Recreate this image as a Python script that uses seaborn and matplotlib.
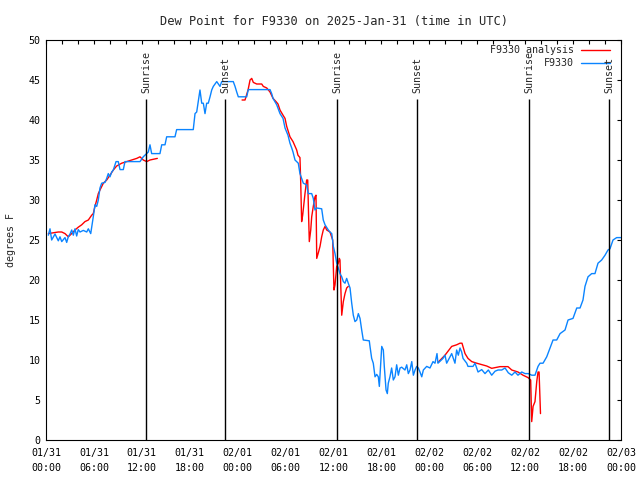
import pandas as pd
import matplotlib
matplotlib.use('Agg')
import matplotlib.pyplot as plt
import matplotlib.dates as mdates
import seaborn as sns

# hours after 2025-01-31 00:00 UTC, dew point in degrees F
obs_hours = [0.29, 0.50, 0.71, 1.13, 1.54, 1.75, 1.97, 2.38, 2.59, 2.79, 3.01, 3.22, 3.42, 3.63,
             3.84, 4.04, 4.26, 4.67, 5.10, 5.30, 5.51, 5.60, 5.92, 6.13, 6.35, 6.55, 6.76, 6.97,
             7.39, 7.60, 7.80, 8.01, 8.23, 8.43, 8.77, 9.05, 9.27, 9.68, 9.89, 11.77, 12.18, 12.61,
             12.81, 13.02, 13.23, 14.27, 14.49, 14.90, 15.11, 16.15, 16.36, 18.44, 18.66, 18.87,
             19.07, 19.28, 19.50, 19.70, 19.91, 20.12, 20.32, 20.54, 20.75, 20.95, 21.38, 21.79,
             22.00, 23.45, 23.67, 23.88, 24.08, 25.13, 25.33, 28.05, 28.26, 28.43, 28.89, 29.30,
             29.68, 29.93, 30.30, 30.55, 30.77, 30.93, 31.18, 31.59, 31.80, 32.01, 32.22, 32.64,
             32.84, 33.27, 33.47, 33.68, 33.90, 34.52, 34.72, 34.94, 35.35, 35.56, 35.78, 35.98,
             36.19, 36.40, 36.60, 36.81, 37.03, 37.23, 37.44, 37.65, 37.85, 38.07, 38.28, 38.48,
             38.69, 38.91, 39.11, 39.32, 39.53, 39.73, 40.48, 40.57, 40.78, 40.98, 41.20, 41.41,
             41.61, 41.74, 41.91, 42.04, 42.24, 42.36, 42.58, 42.74, 42.86, 43.07, 43.28, 43.49,
             43.70, 43.91, 44.12, 44.33, 44.54, 44.95, 45.17, 45.37, 45.58, 45.80, 46.00, 46.21,
             46.42, 46.62, 46.83, 47.05, 47.25, 47.67, 48.08, 48.46, 48.71, 48.96, 49.08, 49.71,
             49.96, 50.17, 50.80, 51.21, 51.42, 51.63, 51.84, 52.05, 52.22, 52.68, 52.84, 53.47,
             53.72, 54.10, 54.56, 54.97, 55.39, 55.81, 56.23, 56.60, 57.07, 57.48, 57.89, 58.32,
             58.73, 59.10, 59.57, 59.98, 60.40, 60.82, 61.23, 61.45, 61.61, 61.86, 62.24, 62.70,
             63.11, 63.49, 63.95, 64.37, 64.99, 65.37, 65.99, 66.46, 66.87, 67.24, 67.49, 67.87,
             68.33, 68.74, 69.12, 69.58, 70.00, 70.37, 70.62, 71.00, 71.46, 72.00]
obs_dew = [25.6, 26.4, 25.0, 25.75, 24.9, 25.4, 24.8, 25.3, 24.7, 25.4, 25.75, 26.25, 25.6, 26.4,
           25.5, 26.3, 26.0, 26.2, 26.0, 26.4, 26.0, 25.8, 27.9, 29.4, 29.2, 30.0, 31.5, 32.1,
           32.2, 32.7, 33.3, 32.9, 33.5, 33.75, 34.8, 34.8, 33.8, 33.8, 34.8, 34.8, 35.4, 35.8,
           36.0, 36.9, 35.8, 35.8, 36.9, 36.9, 37.9, 37.9, 38.8, 38.8, 40.8, 41.0,
           42.3, 43.75, 42.1, 42.1, 40.8, 42.1, 42.1, 42.9, 43.75, 44.2, 44.8, 44.2,
           44.8, 44.8, 44.2, 43.5, 42.9, 42.9, 43.8, 43.8, 43.3, 42.7, 41.9, 40.8,
           40.2, 39.0, 38.1, 37.1, 36.5, 36.0, 35.0, 34.6, 33.3, 32.7, 32.1, 31.9,
           30.8, 30.8, 30.2, 28.75, 29.0, 28.9, 27.5, 26.9, 26.25, 26.0, 25.8, 24.2,
           23.3, 22.1, 21.5, 20.8, 20.4, 19.8, 19.6, 20.2, 19.6, 19.0, 17.1, 15.6,
           14.8, 15.0, 15.8, 15.2, 13.75, 12.5, 12.4, 11.7, 10.2, 9.6, 7.9, 8.2,
           7.9, 6.7, 9.5, 11.7, 11.25, 9.2, 6.25, 5.8, 7.1, 7.9, 9.0, 7.5,
           7.9, 9.4, 8.1, 9.0, 9.1, 8.75, 9.4, 8.3, 8.75, 9.8, 8.1, 8.75,
           9.2, 9.0, 8.5, 7.9, 8.75, 9.2, 9.0, 9.8, 9.6, 10.8, 9.6, 10.2,
           10.6, 9.6, 10.8, 9.6, 11.25, 10.6, 11.5, 11.0, 10.2, 9.6, 9.2, 9.2,
           9.6, 8.5, 8.8, 8.3, 8.75, 8.1, 8.6, 8.75, 8.75, 9.0, 8.4, 8.1,
           8.5, 8.1, 8.5, 8.3, 8.3, 8.1, 8.1, 8.75, 9.2, 9.6, 9.6, 10.4,
           11.5, 12.5, 12.5, 13.3, 13.75, 15.0, 15.2, 16.5, 16.5, 17.5, 19.2, 20.4,
           20.8, 20.8, 22.1, 22.5, 23.1, 23.75, 23.9, 25.0, 25.3, 25.3]

# analysis has three separate pieces
ana_hours_1 = [0.29, 0.91, 1.54, 1.97, 2.38, 2.79, 3.22, 3.63, 4.04, 4.47, 4.88, 5.30, 5.72, 5.92,
               6.13, 6.35, 6.55, 6.76, 7.18, 7.60, 8.01, 8.43, 8.85, 9.48, 10.11, 10.73, 11.36,
               11.77, 12.18, 12.61, 13.02, 13.94]
ana_dew_1 = [25.8, 25.9, 26.0, 26.0, 25.8, 25.4, 25.8, 26.25, 26.6, 26.9, 27.3, 27.5, 28.1, 28.3,
             29.2, 30.0, 30.8, 31.25, 32.1, 32.5, 33.1, 33.75, 34.25, 34.6, 34.8, 35.0, 35.2,
             35.4, 35.0, 34.8, 35.0, 35.2]
ana_hours_2 = [24.55, 24.92, 25.30, 25.55, 25.76, 25.96, 26.38, 27.01, 27.21, 27.64, 28.05, 28.43,
               28.80, 29.05, 29.30, 29.68, 29.93, 30.14, 30.55, 30.93, 31.39, 31.55, 31.80, 31.89,
               32.01, 32.14, 32.43, 32.64, 32.77, 32.87, 32.97, 33.15, 33.27, 33.47, 33.68, 33.81,
               33.90, 34.10, 34.31, 34.52, 34.72, 34.94, 35.15, 35.56, 35.90, 35.98, 36.06, 36.19,
               36.40, 36.60, 36.73, 36.81, 36.90, 37.03, 37.23, 37.44, 37.65, 37.85]
ana_dew_2 = [42.5, 42.5, 43.75, 45.0, 45.2, 44.7, 44.5, 44.5, 44.2, 44.0, 43.5, 42.7,
             42.3, 42.0, 41.25, 40.6, 40.2, 39.2, 37.9, 37.3, 36.25, 35.6, 35.3, 32.4,
             27.3, 28.1, 30.8, 32.5, 32.5, 28.5, 24.8, 26.25, 27.9, 29.2, 30.4, 30.6,
             22.7, 23.4, 24.2, 25.4, 26.25, 26.7, 26.25, 26.0, 25.0, 21.7, 18.75, 19.4,
             21.7, 22.1, 22.7, 22.5, 19.6, 15.6, 17.3, 18.3, 19.0, 19.2]
ana_hours_3 = [49.08, 49.96, 50.80, 51.42, 51.84, 52.09, 52.47, 52.84, 53.31, 53.93, 55.18, 55.81,
               56.85, 57.85, 58.32, 59.10, 59.73, 60.36, 60.69, 60.82, 60.99, 61.23, 61.45, 61.61,
               61.74, 61.92]
ana_dew_3 = [9.7, 10.6, 11.7, 11.9, 12.1, 12.1, 10.8, 10.2, 9.8, 9.6, 9.25, 8.96,
             9.17, 9.17, 8.75, 8.5, 8.1, 7.8, 7.5, 2.3, 4.2, 4.8, 7.3, 8.5,
             8.5, 3.3]

sunrise_hours = [12.52, 36.48, 60.52]
sunset_hours = [22.41, 46.50, 70.54]

start = pd.Timestamp('2025-01-31 00:00')


def to_time(hours):
    return start + pd.to_timedelta(hours, unit='h')


obs = pd.DataFrame({'time': to_time(obs_hours), 'dew': obs_dew})
ana = pd.concat([
    pd.DataFrame({'time': to_time(h), 'dew': d, 'seg': i})
    for i, (h, d) in enumerate([(ana_hours_1, ana_dew_1),
                                (ana_hours_2, ana_dew_2),
                                (ana_hours_3, ana_dew_3)])
])

sns.set_style('white')
plt.rcParams['font.family'] = ['DejaVu Sans Mono']
plt.rcParams['font.size'] = 7.2

fig = plt.figure(figsize=(6.4, 4.8), dpi=100)
ax = fig.add_axes([46 / 640, 40 / 480, 575 / 640, 400 / 480])

red = '#ff0000'
blue = '#0a84ff'

sns.lineplot(data=ana, x='time', y='dew', units='seg', estimator=None, sort=False,
             color=red, lw=1, ax=ax)
sns.lineplot(data=obs, x='time', y='dew', estimator=None, sort=False,
             color=blue, lw=1, ax=ax)

for hrs, name in [(sunrise_hours, 'Sunrise'), (sunset_hours, 'Sunset')]:
    for t in to_time(hrs):
        ax.vlines(t, 0, 42.6, color='black', lw=1)
        ax.text(t, 43.4, name, rotation=90, ha='center', va='bottom')

ax.set_xlim(start, start + pd.Timedelta(hours=72))
ax.set_ylim(0, 50)
ax.set_yticks(range(0, 51, 5))
ax.xaxis.set_major_locator(mdates.HourLocator(byhour=[0, 6, 12, 18]))
ax.xaxis.set_minor_locator(mdates.HourLocator(interval=2))
ax.xaxis.set_major_formatter(mdates.DateFormatter('%m/%d\n%H:%M'))
ax.tick_params(which='both', direction='in', top=True, right=True, width=0.8,
               length=3, pad=4, colors='black')
ax.tick_params(axis='x', pad=6)
for s in ax.spines.values():
    s.set_color('black')
    s.set_linewidth(0.8)

ax.set_xlabel('')
ax.set_ylabel('degrees F', labelpad=9)
ax.set_title('Dew Point for F9330 on 2025-Jan-31 (time in UTC)', pad=11)

# gnuplot-style key, text right of the sample
for yk, label, c in [(0.976, 'F9330 analysis', red), (0.943, 'F9330', blue)]:
    ax.text(0.918, yk, label, transform=ax.transAxes, ha='right', va='center')
    ax.plot([0.930, 0.981], [yk, yk], transform=ax.transAxes, color=c, lw=1)

fig.canvas.draw()
for tk in ax.xaxis.get_major_ticks():
    tk.label1.set_linespacing(1.55)

fig.savefig('out.png', dpi=100)
